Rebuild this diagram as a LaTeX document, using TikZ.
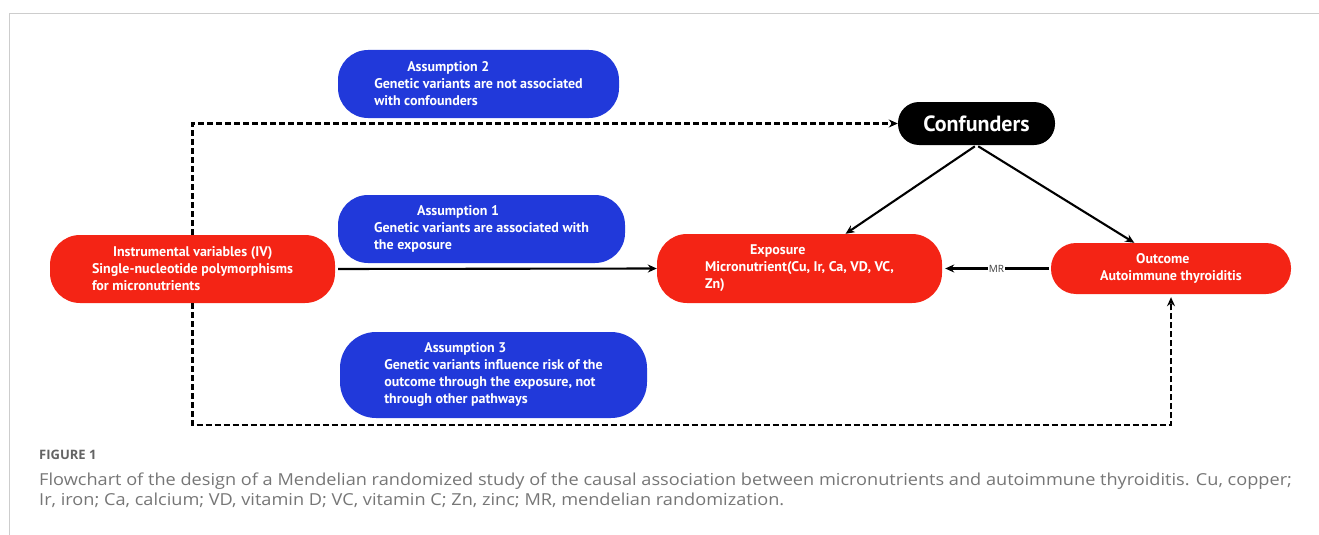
\documentclass[tikz,border=0pt]{standalone}
\usepackage{fontspec}
\setmainfont{Open Sans}
\newfontfamily\boxfont{PT Sans}
\newfontfamily\capfont[FakeStretch=1.1]{Open Sans}
\usetikzlibrary{arrows.meta}
\definecolor{boxblue}{RGB}{33,57,218}
\definecolor{boxred}{RGB}{244,36,21}
\definecolor{capgray}{RGB}{118,118,118}
\definecolor{framegray}{RGB}{205,205,205}

\begin{document}
\begin{tikzpicture}[x=1pt,y=-1pt]
  \tikzstyle{bx}=[rectangle, inner sep=0pt, align=left, text=white,
    font=\boxfont\bfseries\fontsize{14}{17}\selectfont]
  \tikzstyle{assume}=[bx, fill=boxblue, rounded corners=30pt]
  \tikzstyle{var}=[bx, fill=boxred, rounded corners=30pt]
  \tikzstyle{arr}=[line width=2.1pt, -{Stealth[length=9pt,width=8pt]}]
  \tikzstyle{darr}=[arr, dash pattern=on 6pt off 3pt]
  \useasboundingbox (0,0) rectangle (1319,535);
  \draw[framegray, line width=1pt] (9,535) -- (9,14) -- (1319,14);
  % boxes
  \node[assume, minimum width=281, minimum height=68]
    (A2) at (478.5,84) {\hspace*{33pt}Assumption 2\\Genetic variants are not associated\\with confounders};
  \node[bx, fill=black, rounded corners=21pt, minimum width=157, minimum height=43,
    font=\boxfont\bfseries\fontsize{22}{24}\selectfont]
    (Conf) at (976.5,123.5) {Confunders};
  \node[assume, minimum width=287, minimum height=68]
    (A1) at (481.5,229) {\hspace*{43pt}Assumption 1\\Genetic variants are associated with\\the exposure};
  \node[var, minimum width=285, minimum height=68]
    (IV) at (192.5,269) {\hspace*{21pt}Instrumental variables (IV)\\Single-nucleotide polymorphisms\\for micronutrients};
  \node[var, minimum width=285, minimum height=69]
    (Exp) at (799.5,268.5) {\hspace*{45pt}Exposure\\Micronutrient(Cu, Ir, Ca, VD, VC,\\Zn)};
  \node[var, rounded corners=25pt, minimum width=240, minimum height=51]
    (Out) at (1171,268.5) {\hspace*{36pt}Outcome\\Autoimmune thyroiditis};
  \node[assume, rounded corners=36pt, minimum width=307, minimum height=86]
    (A3) at (493.5,375) {\hspace*{40pt}Assumption 3\\Genetic variants influence risk of the\\outcome through the exposure, not\\through other pathways};
  % connectors
  \coordinate (low) at (0,425);
  \draw[darr] (IV.north) |- (Conf.west);
  \draw[darr, shorten >=3pt] (IV.south) -- (IV.south |- low) -| (Out.south);
  \draw[arr, shorten <=3pt] (IV.east) -- (Exp.west);
  \draw[arr, shorten <=2pt] (Conf.south) -- (Exp.37);
  \draw[arr, shorten <=2pt] (Conf.south) -- (Out.145);
  \draw[arr, shorten <=2pt, shorten >=3pt] (Out.west) --
    node[fill=white, inner sep=0.5pt, font=\fontsize{10}{12}\selectfont, text=black!75] (mr) {MR} (Exp.east);
  % caption
  \node[anchor=base west, inner sep=0pt, text=capgray!85!black, font=\bfseries\fontsize{13}{14}\selectfont]
    (fig) at (39,459) {FIGURE 1};
  \node[anchor=base west, inner sep=0pt, text=capgray, font=\capfont\fontsize{16.5}{19}\selectfont]
    (cap1) at (39,485) {Flowchart of the design of a Mendelian randomized study of the causal association between micronutrients and autoimmune thyroiditis. Cu, copper;};
  \node[anchor=base west, inner sep=0pt, text=capgray, font=\capfont\fontsize{16.5}{19}\selectfont]
    (cap2) at (39,505) {Ir, iron; Ca, calcium; VD, vitamin D; VC, vitamin C; Zn, zinc; MR, mendelian randomization.};
\end{tikzpicture}
\end{document}
